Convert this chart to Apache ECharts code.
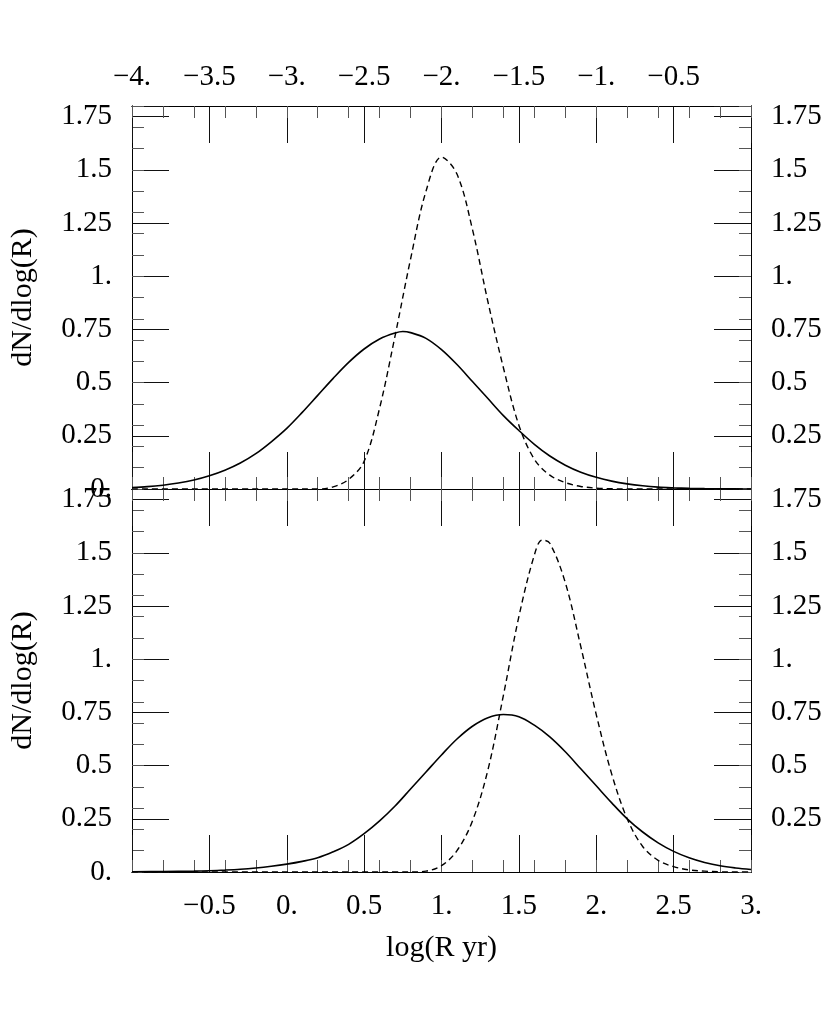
<!DOCTYPE html>
<html>
<head>
<meta charset="utf-8">
<script src="https://cdn.jsdelivr.net/npm/echarts@6/dist/echarts.min.js"></script>
<style>html,body{margin:0;padding:0;background:#fff}#c{width:830px;height:1026px}</style>
</head>
<body>
<div id="c"></div>
<script>
// ---- data ----
const topSolidX = [-1.0,-0.9,-0.8,-0.7,-0.6,-0.5,-0.4,-0.3,-0.2,-0.1,0.0,0.1,0.2,0.3,0.4,0.5,0.6,0.7,0.75,0.8,0.9,1.0,1.1,1.2,1.3,1.4,1.5,1.6,1.7,1.8,1.9,2.0,2.1,2.2,2.3,2.4,2.5,2.6,2.7,2.8,2.9,3.0];
const topSolidY = [0.007,0.011,0.018,0.028,0.042,0.062,0.088,0.122,0.166,0.222,0.285,0.36,0.44,0.52,0.595,0.658,0.705,0.733,0.74,0.735,0.708,0.655,0.585,0.505,0.425,0.345,0.275,0.21,0.155,0.112,0.079,0.055,0.037,0.024,0.015,0.009,0.0055,0.003,0.0017,0.0009,0.0004,0.0];
const topDashX = [-1.0,0.0,0.2,0.3,0.4,0.5,0.6,0.7,0.8,0.9,1.0,1.1,1.2,1.3,1.4,1.5,1.6,1.7,1.8,1.9,2.0,2.1,2.2,3.0];
const topDashY = [0.0,0.0,0.0,0.01,0.045,0.13,0.38,0.72,1.08,1.40,1.56,1.48,1.22,0.88,0.57,0.30,0.14,0.065,0.03,0.012,0.004,0.001,0.0,0.0];
const botSolidX = [-1.0,-0.8,-0.6,-0.5,-0.4,-0.3,-0.2,-0.1,0.0,0.1,0.2,0.3,0.4,0.5,0.6,0.7,0.8,0.9,1.0,1.1,1.2,1.3,1.4,1.5,1.6,1.7,1.8,1.9,2.0,2.1,2.2,2.3,2.4,2.5,2.6,2.7,2.8,2.9,3.0];
const botSolidY = [0.001,0.002,0.004,0.006,0.009,0.013,0.019,0.027,0.037,0.05,0.067,0.095,0.13,0.18,0.24,0.31,0.39,0.47,0.55,0.625,0.685,0.725,0.74,0.73,0.69,0.635,0.565,0.485,0.405,0.325,0.25,0.188,0.137,0.097,0.067,0.045,0.029,0.019,0.012];
const botDashX = [-1.0,0.8,0.9,1.0,1.1,1.2,1.3,1.4,1.5,1.6,1.65,1.7,1.8,1.9,2.0,2.1,2.2,2.3,2.4,2.5,2.6,2.7,2.8,2.9,3.0];
const botDashY = [0.0,0.0,0.004,0.03,0.10,0.24,0.48,0.83,1.20,1.49,1.56,1.545,1.36,1.06,0.74,0.46,0.25,0.12,0.055,0.025,0.01,0.004,0.001,0.0,0.0];

// tick labels
const bottomXLabels = ['', '\u22120.5', '0.', '0.5', '1.', '1.5', '2.', '2.5', '3.'];
const topXLabels = ['\u22124.', '\u22123.5', '\u22123.', '\u22122.5', '\u22122.', '\u22121.5', '\u22121.', '\u22120.5', ''];
const leftYLabelsTop = ['0.', '0.25', '0.5', '0.75', '1.', '1.25', '1.5', '1.75'];
const leftYLabelsBot = ['0.', '0.25', '0.5', '0.75', '1.', '1.25', '1.5', '1.75'];
const rightYLabels = ['', '0.25', '0.5', '0.75', '1.', '1.25', '1.5', '1.75'];
const yName = 'dN/dlog(R)';
const xName = 'log(R yr)';

// ---- chart ----
const FONT = "'Liberation Serif','DejaVu Serif',serif";
const FS = 29;
const NFS = 30;
const XMIN = -1, XMAX = 3, YMIN = 0, YMAX = 1.8;

function pick(labels, v, min, step) {
  const i = Math.round((v - min) / step);
  if (Math.abs(v - (min + i * step)) > 1e-6) return '';
  return labels[i] !== undefined ? labels[i] : '';
}

function xAx(grid, pos, interval, len, labels, margin, extra) {
  const a = {
    type: 'value', gridIndex: grid, position: pos, min: XMIN, max: XMAX, interval: interval,
    axisLine: { show: true, onZero: false, lineStyle: { color: '#000', width: 1 } },
    axisTick: { show: true, inside: true, length: len, lineStyle: { color: len > 20 ? '#111' : '#555', width: 1 } },
    axisLabel: labels ? {
      show: true, margin: margin, color: '#000', fontFamily: FONT, fontSize: FS,
      showMinLabel: true, showMaxLabel: true,
      formatter: (v) => pick(labels, v, XMIN, 0.5)
    } : { show: false },
    splitLine: { show: false }
  };
  return Object.assign(a, extra || {});
}
function yAx(grid, pos, interval, len, labels, extra) {
  const a = {
    type: 'value', gridIndex: grid, position: pos, min: YMIN, max: YMAX, interval: interval,
    axisLine: { show: true, onZero: false, lineStyle: { color: '#000', width: 1 } },
    axisTick: { show: true, inside: true, length: len, lineStyle: { color: len > 20 ? '#111' : '#555', width: 1 } },
    axisLabel: labels ? {
      show: true, margin: 20, color: '#000', fontFamily: FONT, fontSize: FS,
      showMinLabel: true, showMaxLabel: true,
      formatter: (v) => pick(labels, v, YMIN, 0.25)
    } : { show: false },
    splitLine: { show: false }
  };
  return Object.assign(a, extra || {});
}

const nameStyle = { color: '#000', fontFamily: FONT, fontSize: NFS };
const yNameOpts = { name: yName, nameLocation: 'middle', nameGap: 94, nameRotate: 90, nameTextStyle: nameStyle };

const option = {
  animation: false,
  backgroundColor: '#fff',
  grid: [
    { left: 131, top: 106, width: 620, height: 383, containLabel: false },
    { left: 131, top: 489, width: 620, height: 383, containLabel: false }
  ],
  xAxis: [
    xAx(0, 'bottom', 0.5, 37, null),
    xAx(0, 'bottom', 0.2, 12, null),
    xAx(0, 'top', 0.5, 37, topXLabels, 14),
    xAx(0, 'top', 0.2, 12, null),
    xAx(1, 'bottom', 0.5, 37, bottomXLabels, 20,
      { name: xName, nameLocation: 'middle', nameGap: 61, nameTextStyle: nameStyle }),
    xAx(1, 'bottom', 0.2, 12, null),
    xAx(1, 'top', 0.5, 37, null),
    xAx(1, 'top', 0.2, 12, null)
  ],
  yAxis: [
    yAx(0, 'left', 0.25, 37, leftYLabelsTop, yNameOpts),
    yAx(0, 'left', 0.1, 12, null),
    yAx(0, 'right', 0.25, 37, rightYLabels),
    yAx(0, 'right', 0.1, 12, null),
    yAx(1, 'left', 0.25, 37, leftYLabelsBot, yNameOpts),
    yAx(1, 'left', 0.1, 12, null),
    yAx(1, 'right', 0.25, 37, rightYLabels),
    yAx(1, 'right', 0.1, 12, null)
  ],
  series: [
    { type: 'line', xAxisIndex: 0, yAxisIndex: 0, data: topSolidX.map((x, i) => [x, topSolidY[i]]),
      showSymbol: false, smooth: 0.35, lineStyle: { color: '#000', width: 1.6 } },
    { type: 'line', xAxisIndex: 0, yAxisIndex: 0, data: topDashX.map((x, i) => [x, topDashY[i]]),
      showSymbol: false, smooth: 0.35, lineStyle: { color: '#000', width: 1.4, type: [6, 4] } },
    { type: 'line', xAxisIndex: 4, yAxisIndex: 4, data: botSolidX.map((x, i) => [x, botSolidY[i]]),
      showSymbol: false, smooth: 0.35, lineStyle: { color: '#000', width: 1.6 } },
    { type: 'line', xAxisIndex: 4, yAxisIndex: 4, data: botDashX.map((x, i) => [x, botDashY[i]]),
      showSymbol: false, smooth: 0.35, lineStyle: { color: '#000', width: 1.4, type: [6, 4] } }
  ]
};

const chart = echarts.init(document.getElementById('c'), null, { renderer: 'canvas' });
chart.setOption(option);
</script>
</body>
</html>
